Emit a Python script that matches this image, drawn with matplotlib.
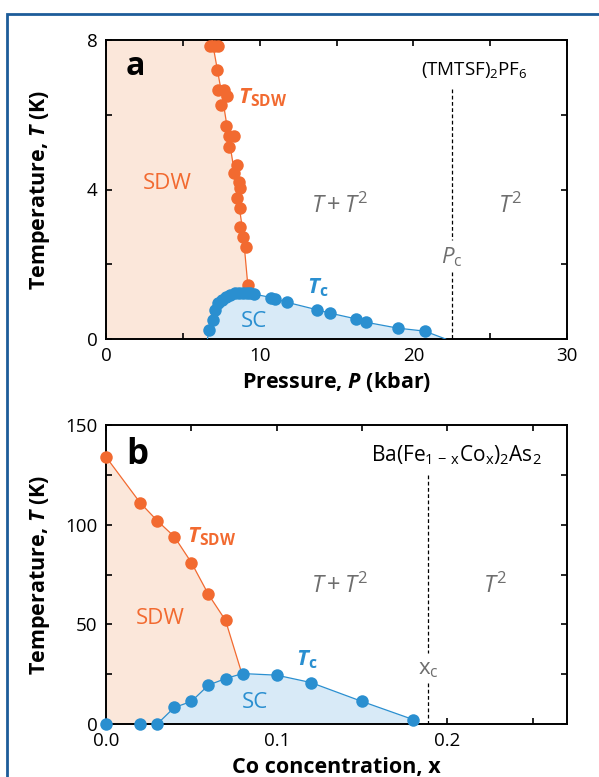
import matplotlib
matplotlib.use('Agg')
import matplotlib.pyplot as plt
from matplotlib.patches import Rectangle

ORANGE = '#f26a30'
BLUE = '#2a8fd0'
ORANGE_FILL = '#fbe7da'
BLUE_FILL = '#d8eaf7'
GREY = '#6e6e6e'

# panel a: (TMTSF)2PF6, pressure in kbar, T in K
a_sdw_P = [6.75, 7.05, 7.3, 7.2, 7.3, 7.65, 7.85, 7.5, 7.8, 8.0, 8.3, 8.0, 8.5, 8.3,
           8.65, 8.75, 8.55, 8.7, 8.75, 8.9, 9.1, 9.25]
a_sdw_T = [7.83, 7.83, 7.83, 7.2, 6.67, 6.67, 6.49, 6.27, 5.69, 5.42, 5.42, 5.15, 4.66,
           4.44, 4.21, 4.04, 3.77, 3.5, 3.01, 2.74, 2.47, 1.45]
# phase boundary drawn through the SDW points
a_edge_P = [6.9, 7.6, 8.3, 8.93, 9.26, 9.35]
a_edge_T = [8.0, 6.4, 4.6, 2.8, 1.3, 1.22]

a_sc_P = [6.72, 6.95, 7.1, 7.3, 7.55, 7.8, 8.1, 8.4, 8.65, 8.9, 9.15, 9.4, 9.65,
          10.75, 11.0, 11.8, 13.75, 14.6, 16.25, 16.9, 19.0, 20.75]
a_sc_T = [0.24, 0.51, 0.78, 0.95, 1.05, 1.13, 1.18, 1.22, 1.24, 1.24, 1.22, 1.22, 1.2,
          1.11, 1.07, 0.98, 0.78, 0.69, 0.54, 0.45, 0.29, 0.21]
a_dome_start = (6.6, 0.0)
a_dome_end = (22.1, 0.0)
a_Pc = 22.5

# panel b: Ba(Fe1-xCox)2As2
b_sdw_x = [0.0, 0.02, 0.03, 0.04, 0.05, 0.06, 0.07]
b_sdw_T = [134, 111, 102, 94, 81, 65, 52]
b_edge_end = (0.0795, 25.5)

b_sc_x = [0.0, 0.02, 0.03, 0.04, 0.05, 0.06, 0.07, 0.08, 0.10, 0.12, 0.15, 0.18]
b_sc_T = [0, 0, 0, 8.3, 11.3, 19.5, 22.8, 25.3, 24.5, 20.8, 11.3, 2.2]
b_xc = 0.1886

plt.rcParams['font.family'] = ['Open Sans', 'DejaVu Sans']
plt.rcParams['mathtext.fontset'] = 'custom'
plt.rcParams['mathtext.rm'] = 'Open Sans'
plt.rcParams['mathtext.it'] = 'Open Sans:italic'
plt.rcParams['mathtext.bf'] = 'Open Sans:bold'
plt.rcParams['mathtext.bfit'] = 'Open Sans:bold:italic'

W, H = 599, 777
fig = plt.figure(figsize=(W / 100, H / 100), dpi=100)

# blue frame, cropped on right and bottom
fig.patches.append(Rectangle((7 / W, -0.1), 1.2, 1 - 14 / H + 0.1, transform=fig.transFigure,
                             fill=False, ec='#1d5c99', lw=2.0))

ax_a = fig.add_axes([106 / W, 1 - 339 / H, 461 / W, 299 / H])
ax_b = fig.add_axes([106 / W, 1 - 724 / H, 461 / W, 299 / H])

MS = 9
LBL = 15.5


def style(ax):
    for s in ax.spines.values():
        s.set_linewidth(1.4)
    ax.tick_params(direction='in', top=True, right=True, length=4, width=1.2,
                   labelsize=13.5, pad=6)


# ---- panel a ----
ax = ax_a
ax.fill([0, 0] + a_edge_P + [a_edge_P[-1]], [0, 8] + a_edge_T + [0], color=ORANGE_FILL, lw=0, zorder=1)
dome_P = [a_dome_start[0]] + a_sc_P + [a_dome_end[0]]
dome_T = [a_dome_start[1]] + a_sc_T + [a_dome_end[1]]
ax.fill_between(dome_P, dome_T, 0, color=BLUE_FILL, lw=0, zorder=2)
ax.plot(a_edge_P, a_edge_T, color=ORANGE, lw=0.9, zorder=3)
ax.plot(dome_P, dome_T, color=BLUE, lw=0.9, zorder=3)
ax.plot(a_sdw_P, a_sdw_T, 'o', color=ORANGE, ms=MS, mew=0, zorder=4, clip_on=False)
ax.plot(a_sc_P, a_sc_T, 'o', color=BLUE, ms=MS, mew=0, zorder=4, clip_on=False)
ax.plot([a_Pc, a_Pc], [6.7, 2.65], color='k', lw=0.9, dashes=(3, 2), zorder=3)
ax.plot([a_Pc, a_Pc], [1.8, 0], color='k', lw=0.9, dashes=(3, 2), zorder=3)

ax.set_xlim(0, 30)
ax.set_ylim(0, 8)
ax.set_xticks([0, 5, 10, 15, 20, 25, 30])
ax.set_xticklabels(['0', '', '10', '', '20', '', '30'])
ax.set_yticks([0, 2, 4, 6, 8])
ax.set_yticklabels(['0', '', '4', '', '8'])
style(ax)

ax.text(1.3, 7.3, 'a', fontsize=23, fontweight='bold', va='center', ha='left')
ax.text(20.5, 7.2, r'(TMTSF)$_2$PF$_6$', fontsize=13.5, va='center', ha='left')
ax.text(8.6, 6.45, r'$\mathbfit{T}_{\mathbf{SDW}}$', fontsize=16, color=ORANGE, va='center')
ax.text(3.97, 4.17, 'SDW', fontsize=16, color=ORANGE, va='center', ha='center')
ax.text(15.2, 3.54, r'$T+T^{2}$', fontsize=17, color=GREY, va='center', ha='center')
ax.text(26.3, 3.54, r'$T^{2}$', fontsize=17, color=GREY, va='center', ha='center')
ax.text(a_Pc, 2.2, r'$P_{\mathrm{c}}$', fontsize=16, color=GREY, va='center', ha='center')
ax.text(13.1, 1.38, r'$\mathbfit{T}_{\mathbf{c}}$', fontsize=16, color=BLUE, va='center')
ax.text(9.63, 0.46, 'SC', fontsize=16, color=BLUE, va='center', ha='center')

ax.set_xlabel(r'Pressure, $\mathbfit{P}$ (kbar)', fontsize=LBL, fontweight='bold')
ax.set_ylabel(r'Temperature, $\mathbfit{T}$ (K)', fontsize=LBL, fontweight='bold')
ax.yaxis.set_label_coords(-0.117, 0.5)
ax.xaxis.set_label_coords(0.5, -0.105)
ax.xaxis.label.set_va('top')

# ---- panel b ----
ax = ax_b
ax.fill([0, 0] + b_sdw_x + [b_edge_end[0], b_edge_end[0]],
        [0, b_sdw_T[0]] + b_sdw_T + [b_edge_end[1], 0], color=ORANGE_FILL, lw=0, zorder=1)
ax.fill_between(b_sc_x, b_sc_T, 0, color=BLUE_FILL, lw=0, zorder=2)
ax.plot(b_sdw_x + [b_edge_end[0]], b_sdw_T + [b_edge_end[1]], color=ORANGE, lw=0.9, zorder=3)
ax.plot(b_sc_x[2:], b_sc_T[2:], color=BLUE, lw=0.9, zorder=3)
ax.plot(b_sdw_x, b_sdw_T, 'o', color=ORANGE, ms=MS, mew=0, zorder=4, clip_on=False)
ax.plot(b_sc_x, b_sc_T, 'o', color=BLUE, ms=MS, mew=0, zorder=4, clip_on=False)
ax.plot([b_xc, b_xc], [125, 35.8], color='k', lw=0.9, dashes=(3, 2), zorder=3)
ax.plot([b_xc, b_xc], [20.8, 0], color='k', lw=0.9, dashes=(3, 2), zorder=3)

ax.set_xlim(0, 0.27)
ax.set_ylim(0, 150)
ax.set_xticks([0, 0.05, 0.1, 0.15, 0.2, 0.25])
ax.set_xticklabels(['0.0', '', '0.1', '', '0.2', ''])
ax.set_yticks([0, 25, 50, 75, 100, 125, 150])
ax.set_yticklabels(['0', '', '50', '', '100', '', '150'])
style(ax)

ax.text(0.0119, 135, 'b', fontsize=25, fontweight='bold', va='center', ha='left')
ax.text(0.155, 135, r'Ba(Fe$_{\mathrm{1\,-\,x}}$Co$_{\mathrm{x}}$)$_2$As$_2$', fontsize=15,
        va='center', ha='left')
ax.text(0.0477, 94, r'$\mathbfit{T}_{\mathbf{SDW}}$', fontsize=16, color=ORANGE, va='center')
ax.text(0.032, 53, 'SDW', fontsize=16, color=ORANGE, va='center', ha='center')
ax.text(0.137, 69, r'$T+T^{2}$', fontsize=17, color=GREY, va='center', ha='center')
ax.text(0.228, 69, r'$T^{2}$', fontsize=17, color=GREY, va='center', ha='center')
ax.text(b_xc, 27.5, r'x$_{\mathrm{c}}$', fontsize=16, color=GREY, va='center', ha='center')
ax.text(0.111, 32.5, r'$\mathbfit{T}_{\mathbf{c}}$', fontsize=16, color=BLUE, va='center')
ax.text(0.0875, 10.8, 'SC', fontsize=16, color=BLUE, va='center', ha='center')

ax.set_xlabel('Co concentration, x', fontsize=LBL, fontweight='bold')
ax.set_ylabel(r'Temperature, $\mathbfit{T}$ (K)', fontsize=LBL, fontweight='bold')
ax.yaxis.set_label_coords(-0.117, 0.5)
ax.xaxis.set_label_coords(0.5, -0.11)
ax.xaxis.label.set_va('top')

fig.savefig('out.png', dpi=100)
